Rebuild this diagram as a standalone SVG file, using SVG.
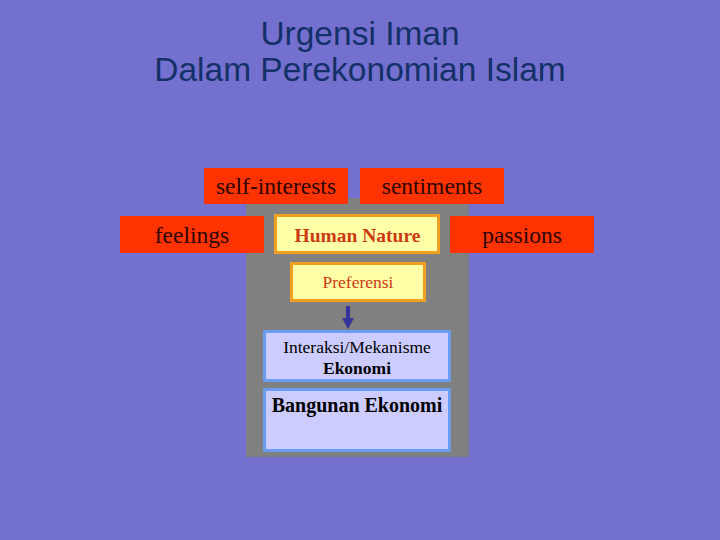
<svg xmlns="http://www.w3.org/2000/svg" width="720" height="540" viewBox="0 0 720 540">
<defs>
<style>
.title{font-family:"Liberation Sans",Arial,sans-serif;font-size:33.5px;fill:#143068;text-anchor:middle}
.red rect{fill:#ff3300}
.red text{font-family:"Liberation Serif","Times New Roman",serif;font-size:23.5px;fill:#2e0600;text-anchor:middle}
.yel rect{fill:#ffffa8;stroke:#f0a020;stroke-width:3}
.yel text{font-family:"Liberation Serif","Times New Roman",serif;fill:#cc3a10;text-anchor:middle}
.blu rect{fill:#ccccff;stroke:#6a9cf0;stroke-width:3}
.blu text{font-family:"Liberation Serif","Times New Roman",serif;fill:#000;text-anchor:middle}
</style>
</defs>
<rect width="720" height="540" fill="#7470cf"/>
<g id="title">
<text class="title" x="360" y="45">Urgensi Iman</text>
<text class="title" x="360" y="81">Dalam Perekonomian Islam</text>
</g>
<rect id="panel" x="246" y="198" width="223" height="259" fill="#808080"/>
<g id="self-interests" class="red"><rect x="204" y="168" width="144" height="36"/><text x="276" y="194">self-interests</text></g>
<g id="sentiments" class="red"><rect x="360" y="168" width="144" height="36"/><text x="432" y="194">sentiments</text></g>
<g id="feelings" class="red"><rect x="120" y="216" width="144" height="37"/><text x="192" y="243">feelings</text></g>
<g id="passions" class="red"><rect x="450" y="216" width="144" height="37"/><text x="522" y="243">passions</text></g>
<g id="human-nature" class="yel"><rect x="275.5" y="215.5" width="163" height="37"/><text x="357.5" y="242" font-size="19.5" font-weight="bold">Human Nature</text></g>
<g id="preferensi" class="yel"><rect x="291.5" y="263.5" width="133" height="37"/><text x="358" y="288" font-size="17.5">Preferensi</text></g>
<g id="interaksi" class="blu"><rect x="264.5" y="331.5" width="185" height="49"/><text x="357" y="353" font-size="17.5">Interaksi/Mekanisme</text><text x="357" y="374" font-size="17.5" font-weight="bold">Ekonomi</text></g>
<g id="bangunan" class="blu"><rect x="264.5" y="389.5" width="185" height="61"/><text x="357" y="412" font-size="20" font-weight="bold">Bangunan Ekonomi</text></g>
<g id="connectors">
<line x1="348" y1="306" x2="348" y2="320" stroke="#333399" stroke-width="4"/>
<polygon points="342,318 354,318 348,329" fill="#333399"/>
</g>
</svg>
